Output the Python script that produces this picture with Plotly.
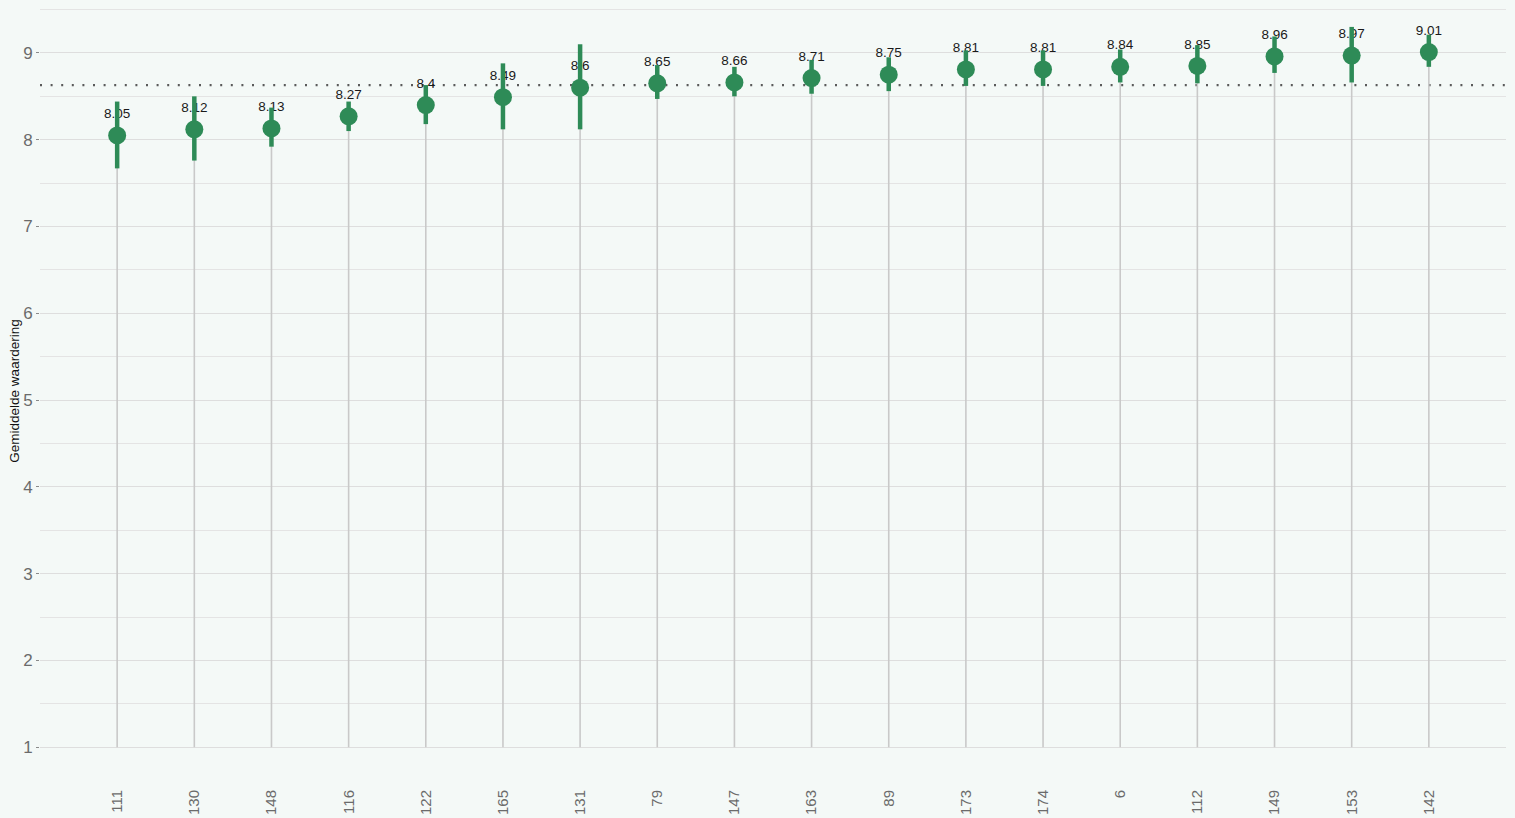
import plotly.graph_objects as go

categories = ["111", "130", "148", "116", "122", "165", "131", "79", "147",
              "163", "89", "173", "174", "6", "112", "149", "153", "142"]
values = [8.05, 8.12, 8.13, 8.27, 8.40, 8.49, 8.60, 8.65, 8.66,
          8.71, 8.75, 8.81, 8.81, 8.84, 8.85, 8.96, 8.97, 9.01]
lower = [7.67, 7.76, 7.92, 8.10, 8.18, 8.12, 8.12, 8.47, 8.50,
         8.53, 8.56, 8.62, 8.62, 8.66, 8.65, 8.77, 8.66, 8.84]
upper = [8.44, 8.50, 8.37, 8.44, 8.63, 8.88, 9.10, 8.86, 8.84,
         8.92, 8.95, 9.03, 9.03, 9.04, 9.09, 9.19, 9.30, 9.21]
labels = ["8.05", "8.12", "8.13", "8.27", "8.4", "8.49", "8.6", "8.65", "8.66",
          "8.71", "8.75", "8.81", "8.81", "8.84", "8.85", "8.96", "8.97", "9.01"]
overall_mean = 8.63
stem_base = 1
label_offset = 0.24

GREEN = "#2E8B57"
BG = "#F4F9F7"
FONT = "Liberation Sans, Arial, sans-serif"

fig = go.Figure()

# stems from base to value
stem_x, stem_y = [], []
for c, v in zip(categories, values):
    stem_x += [c, c, None]
    stem_y += [stem_base, v, None]
fig.add_trace(go.Scatter(x=stem_x, y=stem_y, mode="lines",
                         line=dict(color="#C9C9C9", width=1.6),
                         hoverinfo="skip", showlegend=False))

# value labels
fig.add_trace(go.Scatter(x=categories, y=[v + label_offset for v in values],
                         mode="text", text=labels, textposition="middle center",
                         textfont=dict(family=FONT, size=13.5, color="#1a1a1a"),
                         hoverinfo="skip", showlegend=False))

# point ranges
fig.add_trace(go.Scatter(
    x=categories, y=values, mode="markers",
    marker=dict(color=GREEN, size=18, line=dict(width=0)),
    error_y=dict(type="data", symmetric=False,
                 array=[u - v for u, v in zip(upper, values)],
                 arrayminus=[v - l for v, l in zip(values, lower)],
                 color=GREEN, thickness=4.5, width=0),
    showlegend=False))

fig.add_shape(type="line", xref="paper", x0=0, x1=1, yref="y",
              y0=overall_mean, y1=overall_mean, layer="below",
              line=dict(color="#5a5a5a", width=2.2, dash="2px,8.6px"))

fig.update_layout(
    width=1515, height=818,
    margin=dict(l=40, r=9, t=0, b=36),
    paper_bgcolor=BG, plot_bgcolor=BG,
    font=dict(family=FONT),
    hovermode=False,
    xaxis=dict(type="category", categoryorder="array", categoryarray=categories,
               range=[-1, len(categories)], showgrid=False, zeroline=False,
               showline=False, ticks="", tickangle=-90,
               tickfont=dict(family=FONT, size=15, color="#6b6b6b"),
               ticklabelstandoff=4, automargin=False),
    yaxis=dict(range=[0.6, 9.61], dtick=1, tick0=0, showgrid=True,
               gridcolor="#DEDEDE", gridwidth=1, zeroline=False, showline=False,
               ticks="outside", ticklen=3, tickcolor="#8a8a8a", tickwidth=1,
               tickfont=dict(family=FONT, size=17, color="#6b6b6b"),
               minor=dict(dtick=0.5, tick0=0, showgrid=True, gridcolor="#E4E4E4",
                          gridwidth=1, ticks=""),
               title=dict(text="Gemiddelde waardering",
                          font=dict(family=FONT, size=13.5, color="#111111"),
                          standoff=0),
               automargin=False),
)

fig.write_html(
    "out.html",
    config={"displayModeBar": False},
    post_script="document.body.style.margin='0';document.body.style.background='%s';" % BG,
)
